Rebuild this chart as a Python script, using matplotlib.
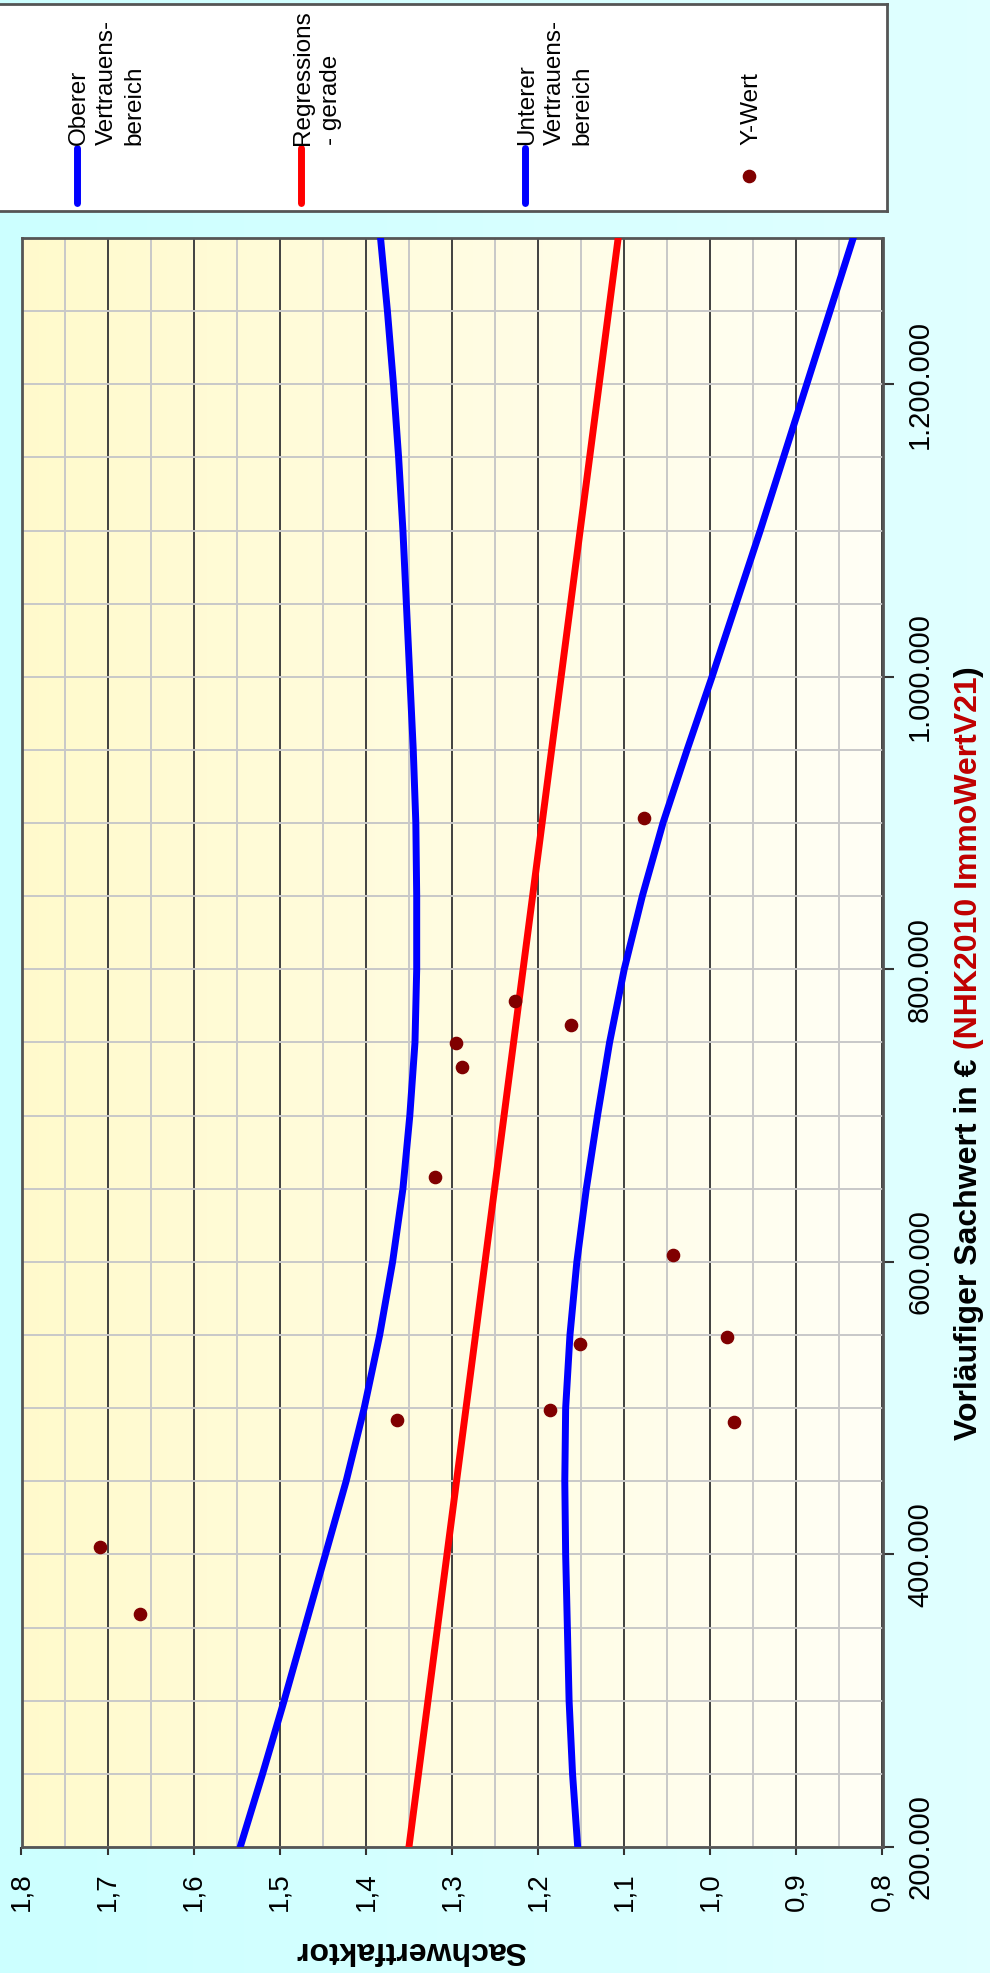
import matplotlib.pyplot as plt
import numpy as np
from matplotlib.ticker import MultipleLocator, FuncFormatter

plt.rcParams['font.family'] = ['Liberation Sans', 'DejaVu Sans']

# Kauffaelle: vorlaeufiger Sachwert (EUR) und Sachwertfaktor
kauf_sachwert = [404800, 359300, 492100, 658100, 749700, 733200, 778200,
                 762200, 498500, 543900, 903700, 604900, 549000, 490500]
kauf_faktor = [1.709, 1.662, 1.364, 1.320, 1.295, 1.288, 1.227,
               1.162, 1.186, 1.151, 1.077, 1.043, 0.981, 0.972]

# Regressionsgerade
reg_sachwert = [200000, 1300000]
reg_faktor = [1.350, 1.107]

# Vertrauensbereich (oben / unten)
band_sachwert = [200000, 250000, 300000, 350000, 400000, 450000, 500000, 550000,
                 600000, 650000, 700000, 750000, 800000, 850000, 900000, 950000,
                 1000000, 1050000, 1100000, 1150000, 1200000, 1250000, 1300000]
band_oben = [1.546, 1.520, 1.495, 1.471, 1.447, 1.423, 1.402, 1.384,
             1.369, 1.357, 1.349, 1.343, 1.341, 1.341, 1.342, 1.345,
             1.349, 1.353, 1.357, 1.362, 1.368, 1.375, 1.383]
band_unten = [1.154, 1.160, 1.164, 1.166, 1.168, 1.169, 1.168, 1.163,
              1.155, 1.144, 1.131, 1.117, 1.100, 1.079, 1.055, 1.027,
              0.998, 0.970, 0.942, 0.915, 0.888, 0.861, 0.834]

BLUE = '#0000ff'
RED = '#ff0000'
DOT = '#800000'
FRAME = '#555555'
LW = 5.0

W, H = 990, 1973
fig = plt.figure(figsize=(W / 100, H / 100), dpi=100)

# hellblauer Hintergrund mit Verlauf
bg = fig.add_axes([0, 0, 1, 1], zorder=-10)
t = np.linspace(0, 1, 256)[:, None]
c0, c1 = np.array([0.80, 1.0, 1.0]), np.array([0.88, 1.0, 1.0])
bg.imshow((c0 + (c1 - c0) * t)[None, :, :], aspect='auto', extent=(0, 1, 0, 1))
bg.axis('off')

ax = fig.add_axes([21.5 / W, (H - 1847) / H, 861 / W, 1609 / H])
ax.set_xlim(1.8, 0.8)
ax.set_ylim(200000, 1300000)

# gelber Verlauf im Diagrammbereich
p0, p1 = np.array([1.0, 0.98, 0.80]), np.array([1.0, 1.0, 0.965])
ax.imshow((p0 + (p1 - p0) * t)[None, :, :], aspect='auto',
          extent=(1.8, 0.8, 200000, 1300000), zorder=0)

ax.plot(band_oben, band_sachwert, color=BLUE, lw=LW, zorder=3)
ax.plot(reg_faktor, reg_sachwert, color=RED, lw=LW, zorder=3)
ax.plot(band_unten, band_sachwert, color=BLUE, lw=LW, zorder=3)
ax.plot(kauf_faktor, kauf_sachwert, 'o', color=DOT, ms=8.8, zorder=5)

ax.xaxis.set_major_locator(MultipleLocator(0.1))
ax.xaxis.set_minor_locator(MultipleLocator(0.05))
ax.xaxis.set_major_formatter(FuncFormatter(lambda v, p: f"{v:.1f}".replace('.', ',')))
ax.yaxis.tick_right()
ax.yaxis.set_major_locator(MultipleLocator(200000))
ax.yaxis.set_minor_locator(MultipleLocator(50000))
ax.yaxis.set_major_formatter(FuncFormatter(lambda v, p: f"{int(round(v)):,}".replace(',', '.')))

ax.set_axisbelow(True)
ax.grid(True, axis='x', which='major', color='#404040', lw=1.4)
ax.grid(True, axis='x', which='minor', color='#c8c8c8', lw=1.4)
ax.grid(True, axis='y', which='both', color='#c8c8c8', lw=1.4)

ax.tick_params(axis='x', which='major', length=6, width=1.5, color='#333333',
               pad=12, labelsize=20, labelrotation=90)
ax.tick_params(axis='y', which='major', length=8, width=1.5, color='#333333',
               pad=9, labelsize=21, labelrotation=90)
ax.tick_params(which='minor', length=0)
for lab in ax.get_yticklabels():
    lab.set_va('center')

for s in ax.spines.values():
    s.set_color(FRAME)
    s.set_linewidth(2)

ax.set_xlabel("Sachwertfaktor", rotation=180, fontsize=23, fontweight='bold', va='center')
ax.xaxis.set_label_coords(0.4524, -0.064)

# Achsentitel rechts, Teil in Rot
t1 = fig.text(969 / W, 1 - 1440 / H, "Vorläufiger Sachwert in €", rotation=90,
              ha='center', va='bottom', fontsize=23, fontweight='bold')
t2 = ax.annotate(" (NHK2010 ImmoWertV21", xy=(0.5, 1), xycoords=t1, rotation=90,
                 ha='center', va='bottom', fontsize=23, fontweight='bold',
                 color='#c00000', annotation_clip=False)
ax.annotate(")", xy=(0.5, 1), xycoords=t2, rotation=90, ha='center', va='bottom',
            fontsize=23, fontweight='bold', annotation_clip=False)

# Legende oben
lax = fig.add_axes([-5 / W, (H - 211) / H, 892 / W, 207 / H])
lax.set_xlim(0, 892)
lax.set_ylim(0, 207)
lax.set_xticks([])
lax.set_yticks([])
lax.set_facecolor('white')
for s in lax.spines.values():
    s.set_color(FRAME)
    s.set_linewidth(2)

entries = [("Oberer\nVertrauens-\nbereich", 'line', BLUE),
           ("Regressions\n- gerade", 'line', RED),
           ("Unterer\nVertrauens-\nbereich", 'line', BLUE),
           ("Y-Wert", 'dot', DOT)]
for i, (label, kind, col) in enumerate(entries):
    x = 82 + 224 * i
    if kind == 'line':
        lax.plot([x, x], [8, 63], color=col, lw=5, solid_capstyle='round')
    else:
        lax.plot([x], [35], 'o', color=col, ms=8.8)
    lax.text(x - 9, 66, label, rotation=90, ha='left', va='bottom',
             multialignment='left', fontsize=17.5, linespacing=1.34)

fig.savefig("out.png", dpi=100)
